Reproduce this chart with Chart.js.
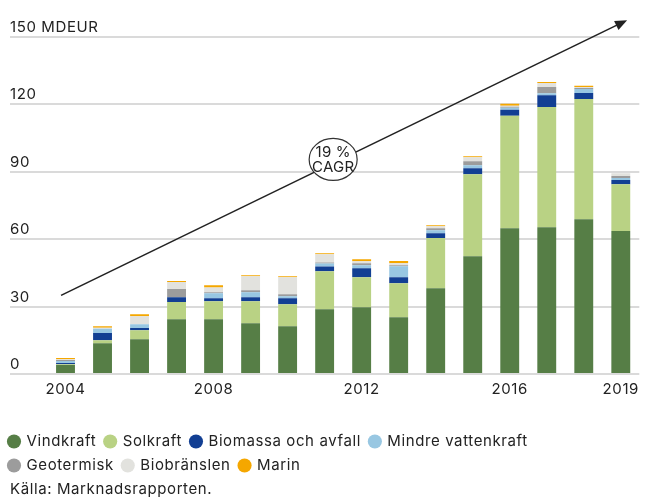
<!DOCTYPE html>
<html>
<head>
<meta charset="utf-8">
<script src="https://cdn.jsdelivr.net/npm/chart.js@4"></script>
<style>
  html, body { margin: 0; padding: 0; background: #fff; }
  #wrap { width: 645px; height: 497px; }
</style>
</head>
<body>
<div id="wrap"><canvas id="chart"></canvas></div>
<script>
'use strict';

const years = ['2004', '2005', '2006', '2007', '2008', '2009', '2010', '2011',
  '2012', '2013', '2014', '2015', '2016', '2017', '2018', '2019'];
const shownYears = ['2004', '2008', '2012', '2016', '2019'];
const yTicks = [0, 30, 60, 90, 120, 150];

const vindkraft = [4.0, 13.7, 15.5, 24.4, 24.4, 22.6, 21.2, 28.8, 29.7, 25.3, 38.2, 52.4, 64.9, 65.3, 68.9, 63.6];
const solkraft = [0.3, 1.3, 4.0, 7.6, 8.0, 9.8, 9.8, 16.9, 13.4, 15.1, 22.3, 36.5, 50.0, 53.5, 53.5, 20.9];
const biomassa = [0.6, 3.3, 1.0, 2.2, 1.3, 1.8, 2.7, 2.2, 4.0, 2.7, 2.2, 2.7, 2.7, 5.3, 2.7, 1.8];
const vattenkraft = [0.9, 1.8, 1.6, 0, 2.2, 2.2, 0.9, 1.3, 1.3, 4.9, 1.3, 1.3, 0.9, 0.9, 1.8, 0.9];
const geotermisk = [0.4, 0, 0, 3.6, 0.45, 0.9, 0.9, 0.45, 0.9, 0.45, 0.9, 1.8, 0.45, 2.7, 0.45, 0.9];
const biobranslen = [0.4, 0.45, 3.6, 3.1, 2.2, 6.2, 7.6, 3.6, 0.9, 0.9, 0.9, 1.8, 0.45, 1.8, 0.45, 1.3];
const marin = [0.5, 0.7, 0.9, 0.45, 0.9, 0.45, 0.45, 0.45, 0.9, 0.9, 0.45, 0.45, 0.9, 0.45, 0.45, 0];

// CAGR arrow: start / end as [category index, value], circle label on it
const arrowFrom = [-0.12, 35];
const arrowTo = [15.17, 157.5];
const cagrAt = [7.23, 95.5];
const cagrText = ['19 %', 'CAGR'];
const source = 'Källa: Marknadsrapporten.';

const FONT = 'Inter, "Noto Sans", sans-serif';
const TEXT = '#222';
const SPACING = '0.6px';

// the reference type runs a little wider than Inter
const spacing = {
  id: 'spacing',
  beforeUpdate(chart) { chart.ctx.letterSpacing = SPACING; },
  beforeDraw(chart) { chart.ctx.letterSpacing = SPACING; }
};

// y labels sit above the gridlines, left aligned; source line at the bottom
const labels = {
  id: 'labels',
  afterDraw(chart) {
    const ctx = chart.ctx;
    const y = chart.scales.y;
    ctx.save();
    ctx.font = '15px ' + FONT;
    ctx.fillStyle = TEXT;
    ctx.textAlign = 'left';
    ctx.textBaseline = 'alphabetic';
    yTicks.forEach(v => {
      const label = v === 150 ? '150 MDEUR' : String(v);
      ctx.fillText(label, 10, y.getPixelForValue(v) - 5);
    });
    ctx.textBaseline = 'middle';
    ctx.fillText(source, 10, 489);
    ctx.restore();
  }
};

const cagr = {
  id: 'cagr',
  afterDraw(chart) {
    const ctx = chart.ctx;
    const x = chart.scales.x;
    const y = chart.scales.y;
    const x1 = x.getPixelForValue(arrowFrom[0]), y1 = y.getPixelForValue(arrowFrom[1]);
    const x2 = x.getPixelForValue(arrowTo[0]), y2 = y.getPixelForValue(arrowTo[1]);
    const ang = Math.atan2(y2 - y1, x2 - x1);
    const head = 12, half = 5;
    ctx.save();
    ctx.strokeStyle = '#222';
    ctx.fillStyle = '#222';
    ctx.lineWidth = 1.6;
    ctx.beginPath();
    ctx.moveTo(x1, y1);
    ctx.lineTo(x2 - Math.cos(ang) * head * 0.8, y2 - Math.sin(ang) * head * 0.8);
    ctx.stroke();
    ctx.beginPath();
    ctx.moveTo(x2, y2);
    ctx.lineTo(x2 - Math.cos(ang) * head - Math.sin(ang) * half, y2 - Math.sin(ang) * head + Math.cos(ang) * half);
    ctx.lineTo(x2 - Math.cos(ang) * head + Math.sin(ang) * half, y2 - Math.sin(ang) * head - Math.cos(ang) * half);
    ctx.closePath();
    ctx.fill();

    const cx = x.getPixelForValue(cagrAt[0]), cy = y.getPixelForValue(cagrAt[1]);
    ctx.beginPath();
    ctx.ellipse(cx, cy, 24, 21, 0, 0, Math.PI * 2);
    ctx.fillStyle = '#fff';
    ctx.fill();
    ctx.lineWidth = 1.2;
    ctx.strokeStyle = '#333';
    ctx.stroke();
    ctx.fillStyle = TEXT;
    ctx.font = '15px ' + FONT;
    ctx.letterSpacing = '0.2px';
    ctx.textAlign = 'center';
    ctx.textBaseline = 'middle';
    ctx.fillText(cagrText[0], cx, cy - 7);
    ctx.fillText(cagrText[1], cx, cy + 8);
    ctx.restore();
  }
};

function series(label, data, color) {
  return {
    label: label,
    data: data,
    backgroundColor: color,
    borderWidth: 0,
    barPercentage: 0.51,
    categoryPercentage: 1
  };
}

new Chart(document.getElementById('chart'), {
  type: 'bar',
  data: {
    labels: years,
    datasets: [
      series('Vindkraft', vindkraft, '#567e46'),
      series('Solkraft', solkraft, '#b9d284'),
      series('Biomassa och avfall', biomassa, '#123f93'),
      series('Mindre vattenkraft', vattenkraft, '#98c7e2'),
      series('Geotermisk', geotermisk, '#9c9c9c'),
      series('Biobränslen', biobranslen, '#e2e2de'),
      series('Marin', marin, '#f5a700')
    ]
  },
  options: {
    responsive: true,
    maintainAspectRatio: false,
    animation: false,
    layout: { padding: { top: 37, left: 0, right: 0, bottom: 14 } },
    scales: {
      x: {
        stacked: true,
        grid: { display: false, drawTicks: false },
        border: { display: false },
        ticks: {
          autoSkip: false,
          maxRotation: 0,
          padding: 6,
          color: TEXT,
          font: { family: FONT, size: 15 },
          callback: function (val, i) {
            const lab = years[i];
            return shownYears.includes(lab) ? lab : '';
          }
        },
        afterFit: function (s) { s.height = 51; }
      },
      y: {
        stacked: true,
        min: 0,
        max: 150,
        border: { display: false },
        grid: {
          color: '#dadada',
          lineWidth: 2,
          drawTicks: true,
          tickLength: 37,
          tickColor: '#dadada'
        },
        ticks: { display: false, stepSize: 30 },
        afterFit: function (s) { s.width = 47; }
      }
    },
    plugins: {
      legend: {
        position: 'bottom',
        align: 'start',
        labels: {
          usePointStyle: true,
          pointStyle: 'circle',
          boxWidth: 10,
          boxHeight: 10,
          padding: 9,
          color: TEXT,
          font: { family: FONT, size: 15 }
        }
      },
      tooltip: { enabled: false }
    }
  },
  plugins: [spacing, labels, cagr]
});
</script>
</body>
</html>
